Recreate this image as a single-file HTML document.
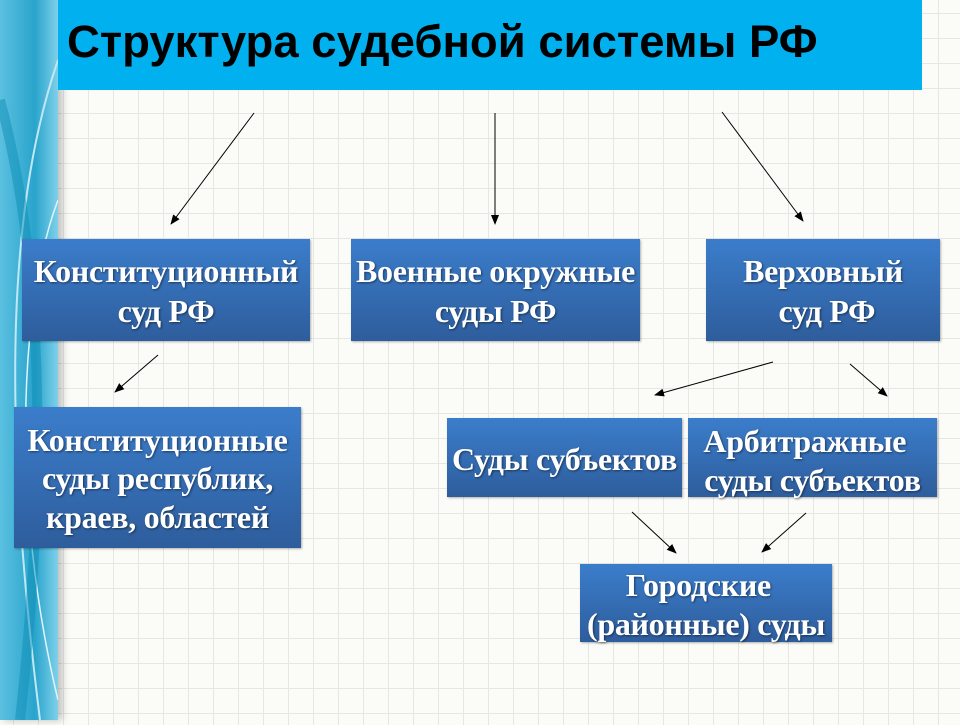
<!DOCTYPE html>
<html><head><meta charset="utf-8"><style>
body{margin:0;width:960px;height:720px;overflow:hidden;position:relative;background:#fbfbf8;
background-image:linear-gradient(#e6e6e2 1px,transparent 1px),linear-gradient(90deg,#e6e6e2 1px,transparent 1px);
background-size:25px 25px;background-position:13px 13px;font-family:"Liberation Serif","Noto Serif CJK SC",serif}
.strip{position:absolute;left:0;top:0;width:58px;height:720px;background:linear-gradient(90deg,#5bc0e0,#2aa4cc 60%,#7fd0ea);box-shadow:4px 0 8px rgba(0,0,0,.25)}
.title{position:absolute;left:58px;top:0;width:864px;height:90px;background:#00b0ef;font-family:"Liberation Sans",sans-serif;font-weight:bold;font-size:45.5px;line-height:84px;padding-left:9px;box-sizing:border-box;color:#000;white-space:nowrap}
.b{position:absolute;background:linear-gradient(#3b7dcb,#2e5d9c);color:#fff;font-weight:bold;font-size:32px;display:flex;align-items:center;justify-content:center;text-align:center;line-height:40px;text-shadow:1px 1px 2px rgba(0,0,0,.5);box-shadow:1px 1px 2px rgba(0,0,0,.3);white-space:nowrap;letter-spacing:-0.3px;padding-top:2px;box-sizing:border-box}
</style></head><body>
<div class="strip"><svg width="58" height="720"><path d="M58 60 C10 200 0 400 40 720" stroke="#bfe8f5" stroke-width="2" fill="none"/><path d="M58 200 C20 300 10 500 58 700" stroke="#e0f5fb" stroke-width="1.5" fill="none"/><path d="M0 100 C40 250 50 450 20 720" stroke="#0d8db5" stroke-width="10" fill="none" opacity=".5"/></svg></div>
<div class="title">Структура судебной системы РФ</div>
<svg style="position:absolute;left:0;top:0" width="960" height="720">
<defs><marker id="a" markerWidth="10" markerHeight="8" refX="9" refY="4" orient="auto" markerUnits="userSpaceOnUse"><path d="M0 0L10 4L0 8z" fill="#000"/></marker></defs>
<g stroke="#000" stroke-width="1" marker-end="url(#a)">
<line x1="254" y1="113" x2="171" y2="224"/>
<line x1="495" y1="113" x2="495" y2="224"/>
<line x1="722" y1="112" x2="803" y2="221"/>
<line x1="158" y1="355" x2="115" y2="392"/>
<line x1="773" y1="362" x2="655" y2="395"/>
<line x1="850" y1="364" x2="887" y2="396"/>
<line x1="632" y1="512" x2="676" y2="553"/>
<line x1="806" y1="513" x2="762" y2="552"/>
</g></svg>
<div class="b" style="left:22px;top:239px;width:288px;height:102px">Конституционный<br>суд РФ</div>
<div class="b" style="left:351px;top:239px;width:289px;height:102px">Военные окружные<br>суды РФ</div>
<div class="b" style="left:706px;top:239px;width:234px;height:102px">Верховный<br>&nbsp;суд РФ</div>
<div class="b" style="left:14px;top:407px;width:287px;height:141px;line-height:38.5px">Конституционные<br>суды республик,<br>краев, областей</div>
<div class="b" style="left:447px;top:418px;width:235px;height:79px">Суды субъектов</div>
<div class="b" style="left:688px;top:418px;width:249px;height:79px;line-height:39px;align-items:flex-start;padding-top:4px">Арбитражные&nbsp;&nbsp;<br>суды субъектов</div>
<div class="b" style="left:580px;top:564px;width:252px;height:78px;line-height:39px;align-items:flex-start;padding-top:2px">Городские&nbsp;&nbsp;<br>(районные) суды</div>
</body></html>
